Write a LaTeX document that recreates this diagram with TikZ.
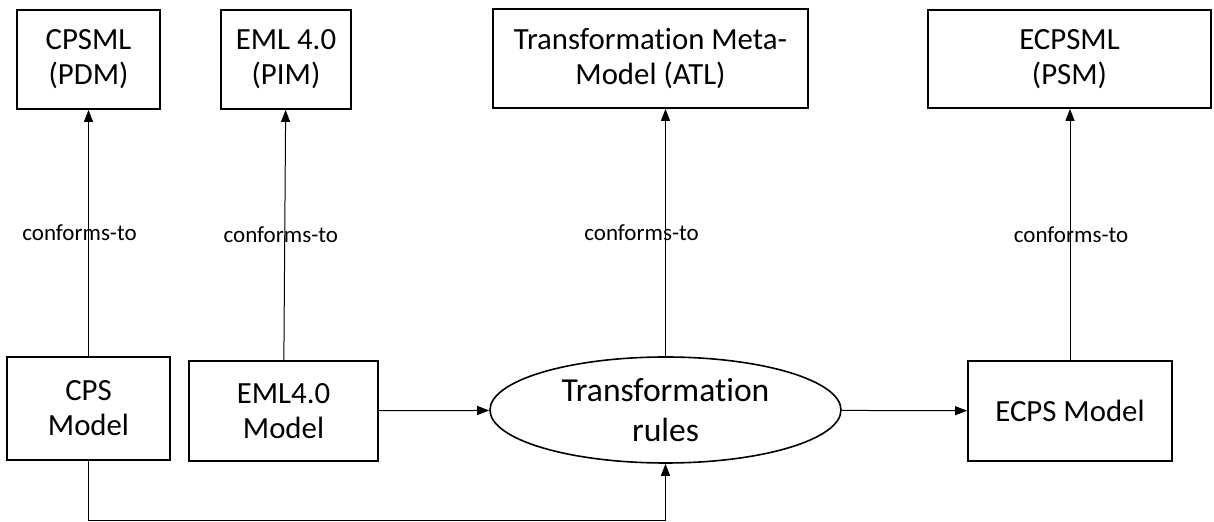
\documentclass[tikz,border=0pt]{standalone}
\usepackage{fontspec}
\setmainfont{Carlito}[Ligatures=NoCommon]
\usetikzlibrary{arrows.meta,shapes.geometric}

\begin{document}
\begin{tikzpicture}[x=0.5pt,y=-0.5pt,
  main/.style = {draw, rectangle, line width=0.9pt, align=center, inner sep=0pt, font=\fontsize{15.4}{17.5}\selectfont},
  rule/.style = {draw, ellipse, line width=0.8pt, align=center, inner sep=0pt, font=\fontsize{16.8}{20}\selectfont},
  conn/.style = {-{Triangle[length=6pt,width=4.5pt]}, line width=0.5pt},
  lab/.style = {font=\fontsize{11.5}{14}\selectfont}]
\useasboundingbox (0,0) rectangle (1214,522);
% meta-models
\node[main, minimum width=71.5pt, minimum height=49.5pt] (cpsml) at (88.5,59.5) {CPSML\\(PDM)};
\node[main, minimum width=65pt, minimum height=49.5pt] (eml) at (286,59.5) {EML 4.0\\(PIM)};
\node[main, minimum width=157.5pt, minimum height=49.5pt] (meta) at (650.5,58.5) {Transformation Meta-\\Model (ATL)};
\node[main, minimum width=141.5pt, minimum height=49pt] (ecpsml) at (1069.5,59) {ECPSML\\(PSM)};
% models
\node[main, minimum width=81.5pt, minimum height=51.5pt] (cps) at (88.5,408.5) {CPS\\Model};
\node[main, minimum width=94.5pt, minimum height=50pt] (emlm) at (283.5,411) {EML4.0\\Model};
\node[rule, minimum width=175.5pt, minimum height=53pt] (rules) at (665.5,410) {Transformation\\rules};
\node[main, minimum width=102pt, minimum height=50pt] (ecps) at (1070,411) {ECPS Model};
% conforms-to
\draw[conn] (cps) -- (cpsml) node[lab, midway, xshift=-4.5pt] {conforms-to};
\draw[conn] (emlm) -- (eml) node[lab, midway, xshift=-2pt] {conforms-to};
\draw[conn] (rules.north) -- (rules.north |- meta.south) node[lab, midway, xshift=-12pt] {conforms-to};
\draw[conn] (ecps.north) -- (ecps.north |- ecpsml.south) node[lab, midway, xshift=0.5pt] {conforms-to};
% transformation flow
\draw[conn] (emlm) -- (rules);
\draw[conn] (rules) -- (ecps);
\draw[conn] (cps.south) -- ++(0,60) -| (rules.south);
\end{tikzpicture}
\end{document}
